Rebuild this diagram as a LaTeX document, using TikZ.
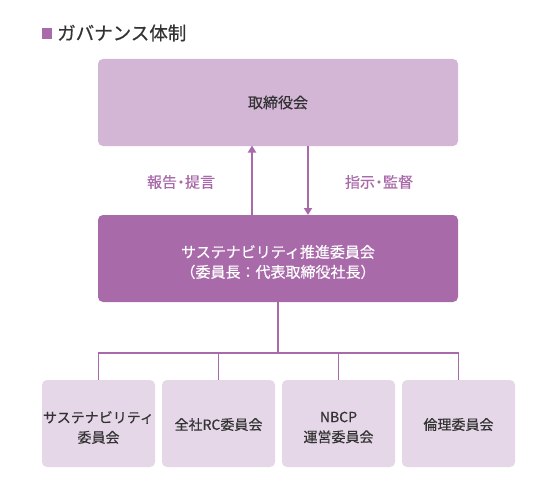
\documentclass[tikz,border=0pt]{standalone}
\usepackage{fontspec}
\setmainfont[FakeBold=0.5]{Noto Sans CJK JP}
\usetikzlibrary{arrows.meta}
\definecolor{pdark}{HTML}{A96AAA}
\definecolor{pmid}{HTML}{D3B5D6}
\definecolor{plight}{HTML}{E6D7E8}
\definecolor{txt}{HTML}{333333}
\newcommand{\pdot}{\kern-3.5pt・\kern-3.5pt}
\begin{document}
\begin{tikzpicture}[x=1pt,y=-1pt,
  boxtop/.style={draw=none,fill=pmid,rounded corners=5pt,minimum width=360pt,minimum height=87pt,inner sep=0pt,font=\fontsize{15}{18}\selectfont,text=txt},
  boxmid/.style={draw=none,fill=pdark,rounded corners=5pt,minimum width=360pt,minimum height=87pt,inner sep=0pt,font=\fontsize{15}{20}\selectfont,text=white,align=center},
  boxsub/.style={draw=none,fill=plight,rounded corners=5pt,minimum width=113pt,minimum height=87pt,inner sep=0pt,font=\fontsize{14}{20}\selectfont,text=txt,align=center},
  conn/.style={draw=pdark,line width=1.8pt},
  arr/.style={conn,-{Triangle[length=7pt,width=8pt]}},
  lbl/.style={text=pdark,font=\fontsize{15}{18}\selectfont},
]
\useasboundingbox (0,0) rectangle (556,492);
\fill[white] (0,0) rectangle (556,492);
% title
\node[fill=pdark,minimum width=10pt,minimum height=11pt,inner sep=0pt] (sq) at (47,34) {};
\node[anchor=west,text=txt,font=\fontsize{18.5}{22}\selectfont,inner sep=0pt] (title) at (57,33) {ガバナンス体制};
% boxes
\node[boxtop] (board) at (278,102.5) {取締役会};
\node[boxmid] (susc) at (278,258.5) {};
\node[text=white,font=\fontsize{15}{20}\selectfont,align=center] (susct) at (278,262) {サステナビリティ推進委員会\\（委員長：代表取締役社長）};
\node[boxsub] (s1) at (98.5,423.5) {};
\node[boxsub] (s2) at (218.5,423.5) {};
\node[boxsub] (s3) at (338.5,423.5) {};
\node[boxsub] (s4) at (458.5,423.5) {};
\node[text=txt,font=\fontsize{14}{20}\selectfont,align=center] (t1) at (98.5,427.5) {サステナビリティ\\委員会};
\node[text=txt,font=\fontsize{14}{20}\selectfont,align=center] (t2) at (218.5,424.5) {全社RC委員会};
\node[text=txt,font=\fontsize{14}{20}\selectfont,align=center] (t3) at (338.5,427.5) {NBCP\\運営委員会};
\node[text=txt,font=\fontsize{14}{20}\selectfont,align=center] (t4) at (458.5,424.5) {倫理委員会};
% arrows
\coordinate (upb) at (252,215);
\coordinate (upt) at (252,145.5);
\coordinate (dnt) at (308,145.5);
\coordinate (dnb) at (308,215);
\draw[arr] (upb) -- (upt);
\draw[arr] (dnt) -- (dnb);
\node[lbl] (l1) at (181,182) {報告\pdot 提言};
\node[lbl] (l2) at (379,182) {指示\pdot 監督};
% tree
\coordinate (bus) at (278,353);
\draw[conn] (susc.south) -- (bus);
\draw[conn] (s1.north) |- (bus) -| (s4.north);
\draw[conn] (s2.north) -- (s2.north |- bus);
\draw[conn] (s3.north) -- (s3.north |- bus);
\end{tikzpicture}
\end{document}
